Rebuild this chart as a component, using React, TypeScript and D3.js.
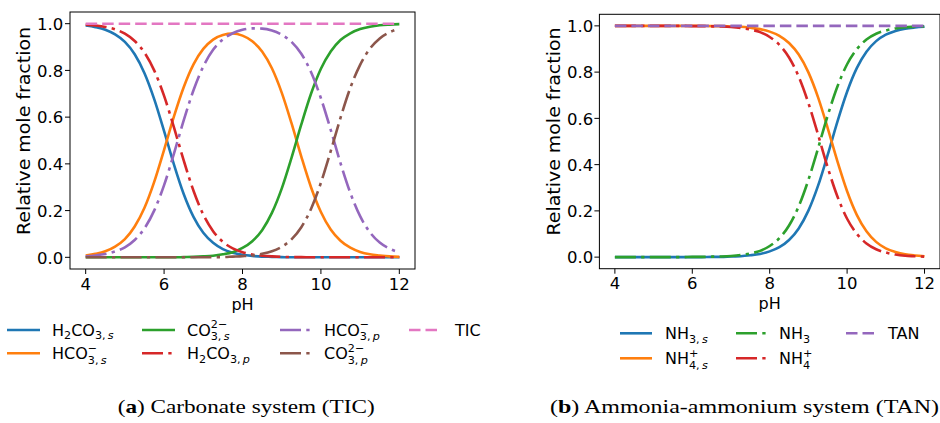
import * as d3 from "d3";
import React from "react";

// pH grid the curves were read on
const PH = [4, 4.25, 4.5, 4.75, 5, 5.25, 5.5, 5.75, 6, 6.25, 6.5, 6.75, 7, 7.25, 7.5, 7.75, 8, 8.25, 8.5, 8.75, 9, 9.25, 9.5, 9.75, 10, 10.25, 10.5, 10.75, 11, 11.25, 11.5, 11.75, 12];

// (a) carbonate system
const H2CO3_S = [0.992, 0.985, 0.974, 0.954, 0.922, 0.869, 0.788, 0.676, 0.54, 0.398, 0.271, 0.173, 0.105, 0.062, 0.035, 0.02, 0.011, 0.006, 0.003, 0.002, 0.001, 0, 0, 0, 0, 0, 0, 0, 0, 0, 0, 0, 0];
const HCO3_S = [0.008, 0.015, 0.026, 0.046, 0.078, 0.132, 0.212, 0.324, 0.46, 0.602, 0.728, 0.826, 0.892, 0.932, 0.952, 0.958, 0.949, 0.925, 0.881, 0.809, 0.705, 0.574, 0.431, 0.299, 0.194, 0.119, 0.071, 0.041, 0.023, 0.013, 0.008, 0.004, 0.002];
const CO3_S = [0, 0, 0, 0, 0, 0, 0, 0, 0, 0, 0.001, 0.002, 0.004, 0.007, 0.013, 0.022, 0.04, 0.069, 0.116, 0.19, 0.294, 0.426, 0.569, 0.701, 0.807, 0.881, 0.93, 0.959, 0.977, 0.987, 0.993, 0.996, 0.998];
const H2CO3_P = [0.996, 0.992, 0.986, 0.976, 0.957, 0.926, 0.876, 0.799, 0.691, 0.557, 0.415, 0.285, 0.183, 0.112, 0.066, 0.038, 0.022, 0.012, 0.007, 0.004, 0.002, 0.001, 0.001, 0, 0, 0, 0, 0, 0, 0, 0, 0, 0];
const HCO3_P = [0.004, 0.008, 0.014, 0.025, 0.043, 0.074, 0.124, 0.201, 0.309, 0.443, 0.586, 0.715, 0.817, 0.888, 0.933, 0.959, 0.974, 0.98, 0.979, 0.971, 0.953, 0.922, 0.871, 0.792, 0.681, 0.546, 0.403, 0.276, 0.176, 0.107, 0.063, 0.037, 0.021];
const CO3_P = [0, 0, 0, 0, 0, 0, 0, 0, 0, 0, 0, 0, 0, 0.001, 0.001, 0.003, 0.005, 0.008, 0.015, 0.026, 0.045, 0.077, 0.129, 0.208, 0.319, 0.454, 0.597, 0.725, 0.824, 0.893, 0.937, 0.963, 0.979];
const TOTAL_PH = [4, 12];
const TIC = [1, 1];

// (b) ammonia-ammonium system
const NH3_S = [0, 0, 0, 0, 0, 0, 0, 0, 0, 0, 0.001, 0.001, 0.003, 0.004, 0.008, 0.014, 0.025, 0.043, 0.074, 0.124, 0.201, 0.309, 0.443, 0.586, 0.715, 0.817, 0.888, 0.934, 0.962, 0.978, 0.988, 0.993, 0.996];
const NH4_S = [1, 1, 1, 1, 1, 1, 1, 1, 1, 1, 0.999, 0.999, 0.997, 0.996, 0.992, 0.986, 0.975, 0.957, 0.926, 0.876, 0.799, 0.691, 0.557, 0.414, 0.285, 0.183, 0.112, 0.066, 0.038, 0.022, 0.012, 0.007, 0.004];
const NH3_P = [0, 0, 0, 0, 0, 0, 0, 0, 0.001, 0.001, 0.002, 0.003, 0.005, 0.009, 0.016, 0.027, 0.048, 0.082, 0.137, 0.22, 0.334, 0.471, 0.613, 0.738, 0.834, 0.899, 0.941, 0.966, 0.98, 0.989, 0.994, 0.996, 0.998];
const NH4_P = [1, 1, 1, 1, 1, 1, 1, 1, 0.999, 0.999, 0.998, 0.997, 0.995, 0.991, 0.984, 0.973, 0.952, 0.918, 0.863, 0.78, 0.666, 0.529, 0.387, 0.262, 0.166, 0.101, 0.059, 0.034, 0.02, 0.011, 0.006, 0.004, 0.002];
const TAN = [1, 1];

const X_TICKS = [4, 6, 8, 10, 12];
const Y_TICKS = [0, 0.2, 0.4, 0.6, 0.8, 1.0];

const FONT = "DejaVu Sans";
const LW = 2.6;
const DASHDOT = "21 5.3 3.3 5.3";
const DASHED = "11.5 5";

type Tok = { b: string; sub?: string; it?: string; sup?: string };
type Series = { x: number[]; y: number[]; color: string; dash?: string; label: Tok[] };

const carbonate: Series[] = [
  { x: PH, y: H2CO3_S, color: "#1f77b4", label: [{ b: "H", sub: "2" }, { b: "CO", sub: "3,\u2009", it: "s" }] },
  { x: PH, y: HCO3_S, color: "#ff7f0e", label: [{ b: "HCO", sup: "\u2212", sub: "3,\u2009", it: "s" }] },
  { x: PH, y: CO3_S, color: "#2ca02c", label: [{ b: "CO", sup: "2\u2212", sub: "3,\u2009", it: "s" }] },
  { x: PH, y: H2CO3_P, color: "#d62728", dash: DASHDOT, label: [{ b: "H", sub: "2" }, { b: "CO", sub: "3,\u2009", it: "p" }] },
  { x: PH, y: HCO3_P, color: "#9467bd", dash: DASHDOT, label: [{ b: "HCO", sup: "\u2212", sub: "3,\u2009", it: "p" }] },
  { x: PH, y: CO3_P, color: "#8c564b", dash: DASHDOT, label: [{ b: "CO", sup: "2\u2212", sub: "3,\u2009", it: "p" }] },
  { x: TOTAL_PH, y: TIC, color: "#e377c2", dash: DASHED, label: [{ b: "TIC" }] },
];

const ammonia: Series[] = [
  { x: PH, y: NH3_S, color: "#1f77b4", label: [{ b: "NH", sub: "3,\u2009", it: "s" }] },
  { x: PH, y: NH4_S, color: "#ff7f0e", label: [{ b: "NH", sup: "+", sub: "4,\u2009", it: "s" }] },
  { x: PH, y: NH3_P, color: "#2ca02c", dash: DASHDOT, label: [{ b: "NH", sub: "3" }] },
  { x: PH, y: NH4_P, color: "#d62728", dash: DASHDOT, label: [{ b: "NH", sup: "+", sub: "4" }] },
  { x: TOTAL_PH, y: TAN, color: "#9467bd", dash: DASHED, label: [{ b: "TAN" }] },
];

const GLYPH_W: Record<string, number> = { "+": 0.838, "\u2212": 0.838 };
const supWidth = (s: string, fs: number) =>
  s.split("").reduce((a, c) => a + (GLYPH_W[c] ?? 0.636), 0) * fs;

function ChemLabel({ toks, x, y }: { toks: Tok[]; x: number; y: number }) {
  const fs = 16;
  const sfs = 11.2;
  const parts: React.ReactNode[] = [];
  toks.forEach((t, i) => {
    parts.push(<tspan key={`b${i}`} y={y} fontSize={fs}>{t.b}</tspan>);
    if (t.sup) parts.push(<tspan key={`p${i}`} y={y - 7.5} fontSize={sfs}>{t.sup}</tspan>);
    if (t.sub) {
      const dy = t.sup ? 4.5 : 3.5;
      parts.push(
        <tspan key={`s${i}`} dx={t.sup ? -supWidth(t.sup, sfs) : 0} y={y + dy} fontSize={sfs}>{t.sub}</tspan>
      );
      if (t.it) parts.push(<tspan key={`i${i}`} y={y + dy} fontSize={sfs} fontStyle="italic">{t.it}</tspan>);
    }
  });
  return <text x={x} fontFamily={FONT} fill="#000">{parts}</text>;
}

type PanelProps = {
  series: Series[];
  x0: number; x1: number; y0: number; y1: number;
  yTickRight: number; yLabelX: number; yLabelY: number;
  xTickBase: number; xLabelBase: number;
  legendCols: { hx: number; tx: number }[]; legendRows: number[]; handleLen: number;
};

function Panel(p: PanelProps) {
  const x = d3.scaleLinear().domain([3.6, 12.4]).range([p.x0, p.x1]);
  const y = d3.scaleLinear().domain([-0.05, 1.05]).range([p.y1, p.y0]);
  const line = (s: Series) =>
    d3.line<number>().x((_, i) => x(s.x[i])).y((v) => y(v)).curve(d3.curveMonotoneX)(s.y) ?? "";
  const nRows = p.legendRows.length;
  return (
    <g>
      <rect x={p.x0} y={p.y0} width={p.x1 - p.x0} height={p.y1 - p.y0} fill="#fff" />
      {p.series.map((s, i) => (
        <path key={i} d={line(s)} fill="none" stroke={s.color} strokeWidth={LW} strokeDasharray={s.dash} />
      ))}
      <rect x={p.x0} y={p.y0} width={p.x1 - p.x0} height={p.y1 - p.y0} fill="none" stroke="#000" strokeWidth={1} />
      {X_TICKS.map((t) => (
        <g key={t}>
          <line x1={x(t)} x2={x(t)} y1={p.y1} y2={p.y1 + 5} stroke="#000" />
          <text x={x(t)} y={p.xTickBase} textAnchor="middle" fontFamily={FONT} fontSize={16.5}>{t}</text>
        </g>
      ))}
      {Y_TICKS.map((t) => (
        <g key={t}>
          <line x1={p.x0 - 5} x2={p.x0} y1={y(t)} y2={y(t)} stroke="#000" />
          <text x={p.yTickRight} y={y(t) + 6.2} textAnchor="end" fontFamily={FONT} fontSize={16.5}>{t.toFixed(1)}</text>
        </g>
      ))}
      <text x={(p.x0 + p.x1) / 2} y={p.xLabelBase} textAnchor="middle" fontFamily={FONT} fontSize={16}>pH</text>
      <text
        transform={`translate(${p.yLabelX},${p.yLabelY}) rotate(-90)`}
        textAnchor="middle" fontFamily={FONT} fontSize={18.3}
        textLength={208} lengthAdjust="spacingAndGlyphs"
      >Relative mole fraction</text>
      {p.series.map((s, i) => {
        const col = p.legendCols[Math.floor(i / nRows)];
        const ry = p.legendRows[i % nRows];
        return (
          <g key={`l${i}`}>
            <line x1={col.hx} x2={col.hx + p.handleLen} y1={ry} y2={ry} stroke={s.color} strokeWidth={LW} strokeDasharray={s.dash} />
            <ChemLabel toks={s.label} x={col.tx} y={ry + 5.8} />
          </g>
        );
      })}
    </g>
  );
}

export default function App() {
  return (
    <svg width={940} height={423} style={{ position: "absolute", left: 0, top: 0, background: "#fff" }}>
      <Panel
        series={carbonate}
        x0={70} x1={415} y0={12} y1={269}
        yTickRight={63.3} yLabelX={30} yLabelY={131}
        xTickBase={290} xLabelBase={310}
        legendCols={[{ hx: 7, tx: 52 }, { hx: 142, tx: 187 }, { hx: 280, tx: 324 }, { hx: 409, tx: 455 }]}
        legendRows={[330, 353.3]} handleLen={33}
      />
      <Panel
        series={ammonia}
        x0={599.4} x1={940} y0={14.3} y1={268.7}
        yTickRight={593.3} yLabelX={560} yLabelY={131.5}
        xTickBase={288.5} xLabelBase={308.5}
        legendCols={[{ hx: 620, tx: 665 }, { hx: 736, tx: 779 }, { hx: 846, tx: 888 }]}
        legendRows={[333.3, 358.3]} handleLen={32}
      />
      <text x={117.7} y={413} fontFamily="Liberation Serif" fontSize={19.5} textLength={257} lengthAdjust="spacingAndGlyphs">
        (<tspan fontWeight="bold">a</tspan>) Carbonate system (TIC)
      </text>
      <text x={550} y={413} fontFamily="Liberation Serif" fontSize={19.5} textLength={389} lengthAdjust="spacingAndGlyphs">
        (<tspan fontWeight="bold">b</tspan>) Ammonia-ammonium system (TAN)
      </text>
    </svg>
  );
}
